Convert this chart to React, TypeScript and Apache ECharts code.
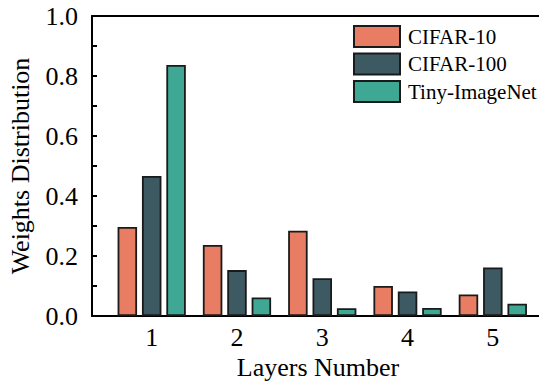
import React, { useEffect, useRef } from "react";
import * as echarts from "echarts";

const layers = [1, 2, 3, 4, 5];
const seriesNames = ["CIFAR-10", "CIFAR-100", "Tiny-ImageNet"];
const cifar10 = [0.297, 0.237, 0.284, 0.1, 0.072];
const cifar100 = [0.467, 0.153, 0.126, 0.082, 0.162];
const tinyImageNet = [0.837, 0.062, 0.026, 0.027, 0.041];
const yTicks = [0, 0.2, 0.4, 0.6, 0.8, 1.0];
const colors = ["#E97D63", "#3D5A63", "#3FA895"];

const FONT = "Liberation Serif";

export default function App() {
  const ref = useRef<HTMLDivElement>(null);
  useEffect(() => {
    if (!ref.current) return;
    const chart = echarts.init(ref.current, null, { renderer: "svg" });
    const values = [cifar10, cifar100, tinyImageNet];
    const xMin = 0.3;
    const xMax = 5.6;
    const axisLineStyle = { color: "#000", width: 2 };
    chart.setOption({
      animation: false,
      backgroundColor: "#fff",
      textStyle: { fontFamily: FONT, color: "#000" },
      grid: {
        left: 92,
        top: 16,
        width: 452,
        height: 300,
        containLabel: false,
        outerBoundsMode: "none",
      },
      legend: {
        orient: "vertical",
        left: 353,
        top: 25,
        padding: 0,
        itemWidth: 46,
        itemHeight: 21,
        itemGap: 4.5,
        icon: "rect",
        data: seriesNames,
        textStyle: { fontFamily: FONT, fontSize: 21, color: "#000", padding: [0, 0, 0, 3] },
        itemStyle: { borderColor: "#1a1a1a", borderWidth: 2 },
      },
      xAxis: [
        {
          type: "value",
          min: xMin,
          max: xMax,
          position: "bottom",
          name: "Layers Number",
          nameLocation: "middle",
          nameGap: 30,
          nameTextStyle: { fontFamily: FONT, fontSize: 26, color: "#000" },
          axisLine: { show: true, lineStyle: axisLineStyle },
          axisTick: { show: false },
          splitLine: { show: false },
          axisLabel: {
            customValues: layers,
            fontFamily: FONT,
            fontSize: 26,
            color: "#000",
            margin: 8,
            formatter: (v: number) => String(v),
          },
        },
        {
          type: "value",
          min: xMin,
          max: xMax,
          position: "top",
          axisLine: { show: true, lineStyle: axisLineStyle },
          axisTick: { show: false },
          axisLabel: { show: false },
          splitLine: { show: false },
        },
      ],
      yAxis: {
        type: "value",
        min: 0,
        max: 1,
        interval: 0.2,
        name: "Weights Distribution",
        nameLocation: "middle",
        nameGap: 59,
        nameTextStyle: { fontFamily: FONT, fontSize: 26, color: "#000" },
        axisLine: { show: true, lineStyle: axisLineStyle },
        axisTick: { show: true, inside: true, length: 5, lineStyle: { color: "#000", width: 2 } },
        minorTick: { show: true, splitNumber: 2, length: 5, lineStyle: { color: "#000", width: 2 } },
        splitLine: { show: false },
        axisLabel: {
          fontFamily: FONT,
          fontSize: 26,
          color: "#000",
          margin: 14,
          formatter: (v: number) => {
            const t = yTicks.find((x) => Math.abs(x - v) < 1e-6);
            return (t !== undefined ? t : v).toFixed(1);
          },
        },
      },
      series: seriesNames.map((name, i) => ({
        name,
        type: "bar",
        xAxisIndex: 0,
        barWidth: 19.5,
        barGap: "25%",
        data: layers.map((l, j) => [l, values[i][j]]),
        itemStyle: { color: colors[i], borderColor: "#1a1a1a", borderWidth: 1.8 },
      })),
    });
    return () => chart.dispose();
  }, []);
  return (
    <div
      ref={ref}
      style={{ position: "fixed", left: 0, top: 0, width: 539, height: 381, background: "#fff" }}
    />
  );
}
